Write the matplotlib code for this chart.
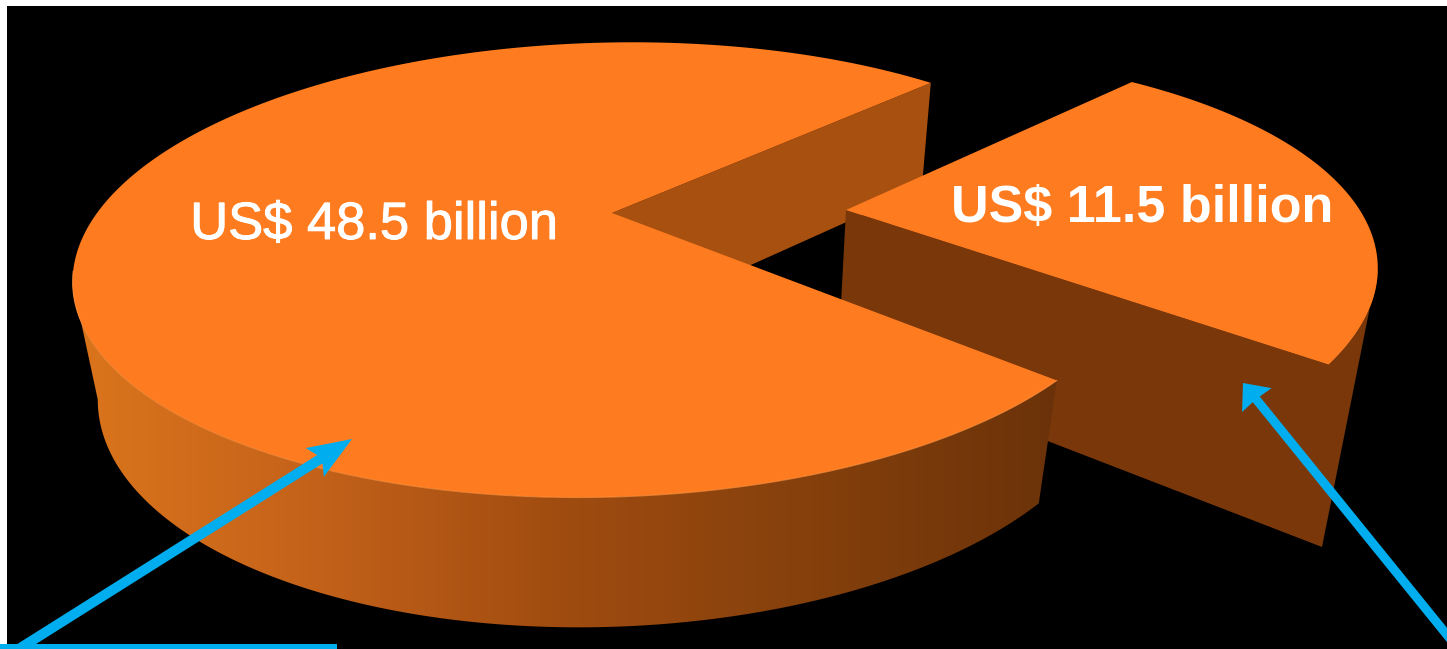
import matplotlib
matplotlib.use('Agg')
import matplotlib.pyplot as plt
import matplotlib.patheffects as pe
import numpy as np
from matplotlib.colors import LinearSegmentedColormap
from matplotlib.patches import Polygon, Rectangle

# chart data
labels = ['US$ 48.5 billion', 'US$ 11.5 billion']
values = [48.5, 11.5]

# colours
TOP = '#ff7b1f'
NOTCH = '#a8500f'
DARK = '#7a380a'
BLUE = '#00aeef'
wall_cmap = LinearSegmentedColormap.from_list(
    'wall', ['#dc761c', '#c4621a', '#a04c10', '#85400c', '#6b3209'])

# the source's 3D view opens the slices up a bit compared to true angles
VIEW_STRETCH = 87 / 69
share = values[1] / sum(values)
small_sweep = 360 * share * VIEW_STRETCH


def project(theta, x0, y0, f, g, k=0.25, shear=0.12):
    # perspective view of a unit circle lying flat, screen y points down
    t = np.radians(theta)
    w = 1 + k * np.sin(t)
    up = g * np.sin(t) / w
    return x0 + f * np.cos(t) / w + shear * up, y0 - up


def arrow(ax, start, tip, width, head_len, head_half, notch):
    start, tip = np.array(start, float), np.array(tip, float)
    u = (tip - start) / np.linalg.norm(tip - start)
    n = np.array([-u[1], u[0]])
    base = tip - u * head_len
    neck = tip - u * notch
    pts = [start + n * width / 2, neck + n * width / 2, base + n * head_half,
           tip, base - n * head_half, neck - n * width / 2, start - n * width / 2]
    ax.add_patch(Polygon(pts, closed=True, fc=BLUE, ec='none', zorder=10))


fig = plt.figure(figsize=(14.47, 6.49), dpi=100, facecolor='white')
ax = fig.add_axes([0, 0, 1, 1])
ax.add_patch(Rectangle((7, 6), 1440, 643, fc='black', ec='none', zorder=0))

# big slice
big_top = dict(x0=612, y0=213, f=515, g=213.4)
big_bot = dict(x0=615, y0=326, f=493, g=226)
big_center = 2.5
big_th = np.linspace(big_center + small_sweep / 2,
                     big_center + 360 - small_sweep / 2, 500)

# wall seen inside the gap
a = big_center + small_sweep / 2
tx, ty = project(a, **big_top)
bx, by = project(a, **big_bot)
ax.fill([big_top['x0'], tx, bx, big_bot['x0']],
        [big_top['y0'], ty, by, big_bot['y0']], color=NOTCH, lw=0, zorder=1)

# small slice, its rim sits a little off from the tip of the wedge
small_center = 8.8
small_th = np.linspace(small_center - small_sweep / 2,
                       small_center + small_sweep / 2, 200)
small_rim = dict(x0=852, y0=223, f=515, g=213.4)
sx, sy = project(small_th, **small_rim)

# walls of the small slice, flat colour up to the rightmost point of the rim
far = np.argmax(sx)
ax.fill(np.r_[846, sx[:far + 1], 1322, 838], np.r_[210, sy[:far + 1], 547, 360],
        color=DARK, lw=0, zorder=2)
ax.fill(np.r_[846, sx], np.r_[210, sy], color=TOP, lw=0, zorder=3)

# big slice outer wall, from the left extreme round the front
tx, ty = project(big_th, **big_top)
bx, by = project(big_th, **big_bot)
i_top, i_bot = np.argmin(tx), np.argmin(bx)
wall = Polygon(np.c_[np.r_[tx[i_top:], bx[i_bot:][::-1]], np.r_[ty[i_top:], by[i_bot:][::-1]]],
               closed=True, fc='none', ec='none', zorder=4)
ax.add_patch(wall)
grad = ax.imshow(np.linspace(0, 1, 512)[None, :], cmap=wall_cmap, aspect='auto',
                 extent=(60, 1060, 649, 0), zorder=4)
grad.set_clip_path(wall)

ax.fill(np.r_[big_top['x0'], tx], np.r_[big_top['y0'], ty], color=TOP, lw=0, zorder=5)
ax.plot(tx[ty > 270], ty[ty > 270], color='#ff9440', lw=0.8, zorder=5, alpha=0.7)

# labels
soft = [pe.withStroke(linewidth=0.7, foreground='white')]
ax.text(374, 225, labels[0], color='white', fontsize=37.8, ha='center', va='center',
        family='Liberation Sans', zorder=6, path_effects=soft)
ax.text(1142, 208, labels[1], color='white', fontsize=37.5, fontweight='bold', ha='center',
        va='center', family='Liberation Sans', zorder=6)

# arrows and the box edge at the bottom
arrow(ax, (14, 652), (352, 439), 10, 44, 17, 38)
arrow(ax, (1460, 651), (1243, 383), 9, 22, 19, 21)
ax.add_patch(Rectangle((0, 644), 337, 5, fc=BLUE, ec='none', zorder=10))

ax.set_xlim(0, 1447)
ax.set_ylim(649, 0)
ax.axis('off')

fig.savefig('out.png', dpi=100, facecolor='white')
